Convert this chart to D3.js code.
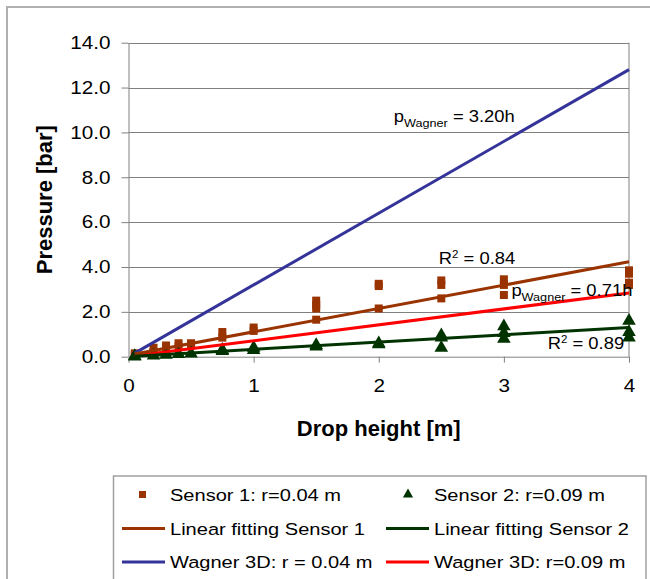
<!DOCTYPE html>
<html lang="en">
<head>
<meta charset="UTF-8">
<title>Pressure vs drop height</title>
<script src="https://d3js.org/d3.v7.min.js"></script>
<style>
    body { margin: 0; background: #fff; }
    text { font-family: Arial, "Liberation Sans", sans-serif; fill: #000; }
    .grid line { stroke: #808080; stroke-width: 1; }
    .axis path, .axis line { stroke: #808080; stroke-width: 1; }
    .title { font-weight: bold; font-size: 22px; }
</style>
</head>
<body>
<div id="chart"></div>
<script>
    // values
    const sensor1Height = [0.05, 0.05, 0.2, 0.2, 0.3, 0.3, 0.4, 0.4, 0.5, 0.5, 0.75, 0.75, 1, 1,
        1.5, 1.5, 1.5, 1.5, 2, 2, 2, 2.5, 2.5, 2.5, 3, 3, 3, 4, 4, 4, 4];
    const sensor1Pressure = [0.15, 0.05, 0.4, 0.2, 0.5, 0.3, 0.6, 0.45, 0.6, 0.5, 1.1, 0.85, 1.3, 1.15,
        2.5, 2.3, 2.15, 1.65, 3.25, 3.15, 2.15, 3.4, 3.2, 2.6, 3.45, 3.2, 2.75, 3.85, 3.7, 3.3, 3.2];

    const sensor2Height = [0.05, 0.05, 0.2, 0.3, 0.4, 0.5, 0.75, 0.75, 1, 1, 1.5, 1.5, 2, 2,
        2.5, 2.5, 2.5, 3, 3, 3, 4, 4, 4];
    const sensor2Pressure = [0.03, 0.0, 0.05, 0.08, 0.12, 0.14, 0.25, 0.3, 0.3, 0.4, 0.45, 0.52, 0.6, 0.55,
        0.95, 0.85, 0.4, 1.35, 1.05, 0.8, 1.6, 1.1, 0.85];

    // straight lines: end points [h, p]
    const fit1Line = [[0.05, 0.12], [4, 4.23]];
    const fit2Line = [[0.05, 0.02], [4, 1.3]];
    const wagner1Line = [[0.05, 0.16], [4, 12.8]];
    const wagner2Line = [[0.05, 0.04], [4, 2.84]];

    const xTicks = [0, 1, 2, 3, 4];
    const yTicks = [0, 2, 4, 6, 8, 10, 12, 14];

    // annotations: [h, p] anchor of the text start
    const notes = [
        { at: [2.12, 10.46], kind: "p", text: " = 3.20h" },
        { at: [2.48, 4.13], kind: "r", text: " = 0.84" },
        { at: [3.06, 2.72], kind: "p", text: " = 0.71h" },
        { at: [3.35, 0.33], kind: "r", text: " = 0.89" }
    ];

    const legendItems = [
        { label: "Sensor 1: r=0.04 m", type: "square", color: "#993300" },
        { label: "Sensor 2: r=0.09 m", type: "triangle", color: "#003300" },
        { label: "Linear fitting Sensor 1", type: "line", color: "#993300" },
        { label: "Linear fitting Sensor 2", type: "line", color: "#003300" },
        { label: "Wagner 3D: r = 0.04 m", type: "line", color: "#333399" },
        { label: "Wagner 3D: r=0.09 m", type: "line", color: "#ff0000" }
    ];

    const W = 650, H = 579;
    const plot = { left: 128.5, right: 629, top: 42.7, bottom: 356.7 };
    const stretch = 1.15;

    const svg = d3.select("#chart").append("svg")
        .attr("width", W)
        .attr("height", H);

    // outer frame
    svg.append("rect")
        .attr("x", 7).attr("y", 7)
        .attr("width", 660).attr("height", 600)
        .attr("fill", "none")
        .attr("stroke", "#b0b0b0")
        .attr("stroke-width", 2);

    const x = d3.scaleLinear().domain([0, 4]).range([plot.left, plot.right]);
    const y = d3.scaleLinear().domain([0, 14]).range([plot.bottom, plot.top]);

    // horizontal grid
    svg.append("g").attr("class", "grid")
        .selectAll("line")
        .data(yTicks.slice(1))
        .join("line")
        .attr("x1", plot.left).attr("x2", plot.right)
        .attr("y1", d => Math.round(y(d)) + 0.5)
        .attr("y2", d => Math.round(y(d)) + 0.5);

    // right border of plot area
    svg.append("line")
        .attr("x1", plot.right).attr("x2", plot.right)
        .attr("y1", y(14)).attr("y2", y(0))
        .attr("stroke", "#808080");

    const yAxis = svg.append("g").attr("class", "axis")
        .attr("transform", `translate(${plot.left},0)`)
        .call(d3.axisLeft(y).tickValues(yTicks).tickFormat(d3.format(".1f"))
            .tickSize(7).tickSizeOuter(0).tickPadding(11));
    yAxis.selectAll("text")
        .attr("font-size", 18)
        .attr("transform", `scale(${stretch},1)`)
        .attr("x", -18 / stretch);

    const xAxis = svg.append("g").attr("class", "axis")
        .attr("transform", `translate(0,${plot.bottom})`)
        .call(d3.axisBottom(x).tickValues(xTicks).tickFormat(d3.format("d"))
            .tickSize(6).tickSizeOuter(0).tickPadding(17));
    xAxis.selectAll("text")
        .attr("font-size", 18)
        .attr("transform", `scale(${stretch},1)`);
    svg.selectAll(".axis .domain").attr("stroke", "#808080");

    // axis titles
    svg.append("text").attr("class", "title")
        .attr("x", (plot.left + plot.right) / 2).attr("y", 436)
        .attr("text-anchor", "middle")
        .text("Drop height [m]");
    svg.append("text").attr("class", "title")
        .attr("transform", `translate(52,${(plot.top + plot.bottom) / 2}) rotate(-90)`)
        .attr("text-anchor", "middle")
        .text("Pressure [bar]");

    // markers
    const s1 = sensor1Height.map((h, i) => [h, sensor1Pressure[i]]);
    const s2 = sensor2Height.map((h, i) => [h, sensor2Pressure[i]]);

    svg.append("g").selectAll("rect")
        .data(s1)
        .join("rect")
        .attr("x", d => x(d[0]) - 4)
        .attr("y", d => y(d[1]) - 4)
        .attr("width", 8).attr("height", 8)
        .attr("fill", "#993300");

    const tri = d3.symbol().type(d3.symbolTriangle).size(80);
    svg.append("g").selectAll("path")
        .data(s2)
        .join("path")
        .attr("d", tri)
        .attr("transform", d => `translate(${x(d[0])},${y(d[1])})`)
        .attr("fill", "#003300");

    // lines
    const line = d3.line().x(d => x(d[0])).y(d => y(d[1]));
    [[wagner1Line, "#333399"], [wagner2Line, "#ff0000"], [fit1Line, "#993300"], [fit2Line, "#003300"]]
        .forEach(([pts, c]) => {
            svg.append("path")
                .attr("d", line(pts))
                .attr("fill", "none")
                .attr("stroke", c)
                .attr("stroke-width", 3);
        });

    // annotations
    notes.forEach(n => {
        const t = svg.append("text")
            .attr("transform", `translate(${x(n.at[0])},${y(n.at[1])}) scale(${stretch},1)`)
            .attr("font-size", 16);
        if (n.kind === "p") {
            t.append("tspan").text("p");
            t.append("tspan").attr("font-size", 11).attr("dy", 5).text("Wagner");
            t.append("tspan").attr("dy", -5).text(n.text);
        } else {
            t.append("tspan").text("R");
            t.append("tspan").attr("font-size", 10).attr("dy", -6).text("2");
            t.append("tspan").attr("dy", 6).text(n.text);
        }
    });

    // legend
    const legend = svg.append("g");
    legend.append("rect")
        .attr("x", 113.5).attr("y", 476)
        .attr("width", 532.5).attr("height", 130)
        .attr("fill", "#fff")
        .attr("stroke", "#a0a0a0")
        .attr("stroke-width", 1.5);

    const colX = [122, 386];
    const rowY = [494.5, 528.5, 562];
    legendItems.forEach((it, i) => {
        const lx = colX[i % 2], ly = rowY[Math.floor(i / 2)];
        const g = legend.append("g").attr("transform", `translate(${lx},${ly})`);
        if (it.type === "line") {
            g.append("line").attr("x1", 0).attr("x2", 43)
                .attr("stroke", it.color).attr("stroke-width", 3);
        } else if (it.type === "square") {
            g.append("rect").attr("x", 17).attr("y", -3.5)
                .attr("width", 7).attr("height", 7).attr("fill", it.color);
        } else {
            g.append("path").attr("d", d3.symbol().type(d3.symbolTriangle).size(45))
                .attr("transform", "translate(22,0)").attr("fill", it.color);
        }
        g.append("text")
            .attr("transform", `translate(48,6) scale(1.18,1)`)
            .attr("font-size", 17)
            .text(it.label);
    });
</script>
</body>
</html>
